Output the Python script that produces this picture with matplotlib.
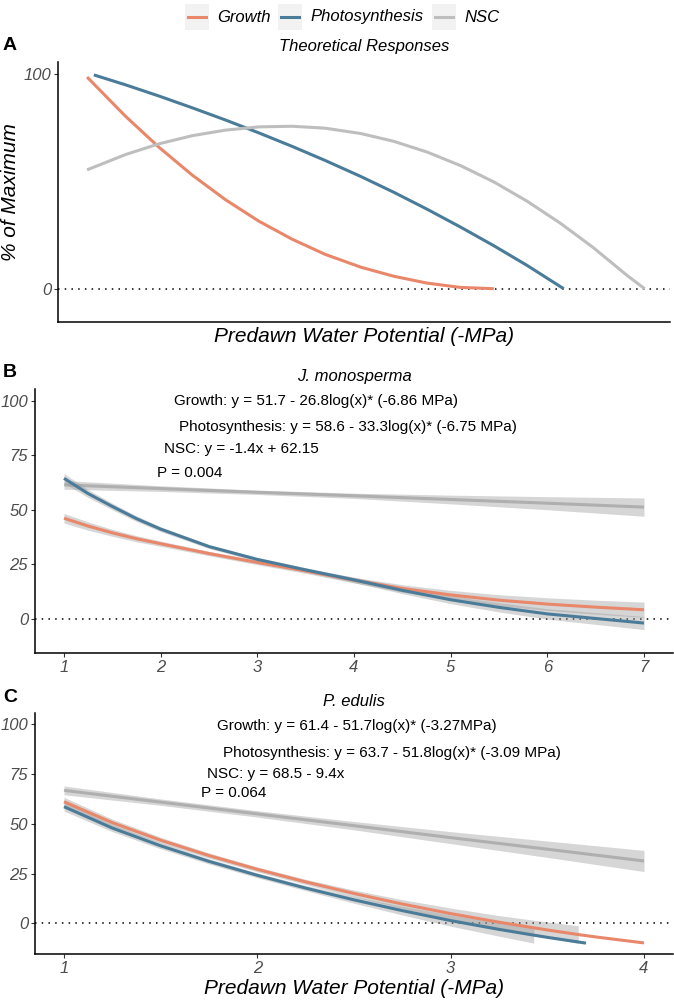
import numpy as np
import matplotlib.pyplot as plt
from matplotlib.patches import Rectangle
from matplotlib.lines import Line2D

plt.rcParams['font.family'] = ['Liberation Sans', 'DejaVu Sans']

# series names / colours shared by all panels
series_names = ['Growth', 'Photosynthesis', 'NSC']
series_colors = ['#E8876A', '#4A7C99', '#BEBEBE']
band_color = '#999999'

# ---- panel A: theoretical responses (x axis has no scale shown)
a_x_growth = [1.0, 1.62, 2.16, 2.70, 3.24, 3.78, 4.32, 4.85, 5.43, 5.96, 6.50, 7.04, 7.58]
a_growth = [98.5, 80.3, 65.9, 52.9, 41.4, 31.4, 23.0, 16.0, 10.0, 5.8, 2.6, 0.6, 0.0]
a_x_photo = [1.11, 1.62, 2.16, 2.70, 3.24, 3.78, 4.32, 4.85, 5.43, 5.96, 6.50, 7.04, 7.58, 8.12, 8.71]
a_photo = [99.5, 94.9, 89.7, 84.2, 78.5, 72.5, 66.2, 59.7, 52.2, 44.9, 37.0, 28.7, 20.0, 10.8, 0.0]
a_x_nsc = [1.0, 1.62, 2.16, 2.70, 3.24, 3.78, 4.32, 4.85, 5.43, 5.96, 6.50, 7.04, 7.58, 8.12, 8.66, 9.19, 9.73, 10.02]
a_nsc = [55.3, 62.4, 67.4, 71.2, 73.8, 75.3, 75.6, 74.7, 72.2, 68.6, 63.6, 57.3, 49.7, 40.7, 30.4, 19.1, 6.3, 0.0]

# ---- panel B: J. monosperma fits (value and half-width of the grey band)
b_x = [1, 1.25, 1.5, 1.75, 2, 2.5, 3, 3.5, 4, 4.5, 5, 5.5, 6, 6.5, 7]
b_growth = [46.2, 42.6, 39.5, 36.8, 34.5, 30.0, 25.9, 22.0, 17.8, 14.0, 11.0, 8.6, 6.8, 5.4, 4.2]
b_growth_se = [2.2, 1.9, 1.6, 1.4, 1.2, 1.0, 1.0, 1.1, 1.3, 1.7, 2.1, 2.5, 2.9, 3.2, 3.5]
b_photo = [64.5, 57.5, 51.6, 46.0, 41.2, 33.2, 27.3, 22.5, 17.9, 13.1, 8.8, 5.3, 2.3, 0.2, -1.9]
b_photo_se = [2.2, 1.8, 1.5, 1.3, 1.1, 0.9, 0.9, 1.0, 1.2, 1.5, 1.8, 2.1, 2.4, 2.7, 3.0]
b_x_nsc = [1, 2, 3, 4, 5, 6, 7]
b_nsc = [61.5, 59.8, 58.1, 56.5, 54.8, 53.1, 51.3]
b_nsc_se = [2.0, 1.3, 1.0, 1.2, 2.0, 3.0, 4.2]
b_labels = ['Growth: y = 51.7 - 26.8log(x)* (-6.86 MPa)',
            'Photosynthesis: y = 58.6 - 33.3log(x)* (-6.75 MPa)',
            'NSC: y = -1.4x + 62.15',
            'P = 0.004']

# ---- panel C: P. edulis fits (band dropped where it leaves the y range)
c_x_growth = [1, 1.25, 1.5, 1.75, 2, 2.25, 2.5, 2.75, 3, 3.25, 3.5, 3.66, 3.75, 4]
c_growth = [61.0, 50.5, 41.7, 34.0, 27.1, 20.8, 15.0, 9.7, 4.9, 0.6, -3.3, -5.6, -6.8, -9.8]
c_growth_se = [2.2, 1.8, 1.5, 1.3, 1.2, 1.3, 1.7, 2.2, 2.8, 3.3, 4.0, 4.4, np.nan, np.nan]
c_x_photo = [1, 1.25, 1.5, 1.75, 2, 2.25, 2.5, 2.75, 3, 3.25, 3.43, 3.5, 3.7]
c_photo = [58.5, 47.8, 38.9, 31.1, 24.1, 17.7, 11.8, 6.4, 1.4, -3.0, -5.9, -7.0, -9.9]
c_photo_se = [2.2, 1.8, 1.5, 1.3, 1.2, 1.3, 1.7, 2.2, 2.8, 3.4, 4.0, np.nan, np.nan]
c_x_nsc = [1, 1.5, 2, 2.5, 3, 3.5, 4]
c_nsc = [66.7, 60.8, 54.9, 49.0, 43.0, 37.2, 31.3]
c_nsc_se = [2.2, 1.6, 1.6, 2.1, 3.0, 4.1, 5.3]
c_labels = ['Growth: y = 61.4 - 51.7log(x)* (-3.27MPa)',
            'Photosynthesis: y = 63.7 - 51.8log(x)* (-3.09 MPa)',
            'NSC: y = 68.5 - 9.4x',
            'P = 0.064']

W, H = 674, 1001
fig = plt.figure(figsize=(W / 100, H / 100), dpi=100)
LINE = dict(lw=2.2, solid_joinstyle='round', solid_capstyle='butt')


def px_axes(left, right, top, bottom):
    return fig.add_axes([left / W, 1 - bottom / H, (right - left) / W, (bottom - top) / H])


def style(ax, xticks, yticks):
    for s in ['top', 'right']:
        ax.spines[s].set_visible(False)
    for s in ['left', 'bottom']:
        ax.spines[s].set_linewidth(1.1)
    ax.set_xticks(xticks)
    ax.set_yticks(yticks)
    ax.tick_params(direction='out', length=3, width=0.8, color='#333333',
                   labelsize=12, labelcolor='#4D4D4D', pad=2)
    for lab in ax.get_xticklabels() + ax.get_yticklabels():
        lab.set_fontstyle('italic')
    ax.set_ylim(-15.5, 105.5)
    ax.axhline(0, color='black', lw=1.1, linestyle=(0, (1, 3.4)), zorder=1)


def band(ax, x, y, se):
    y = np.array(y, dtype=float)
    se = np.array(se, dtype=float)
    ax.fill_between(x, y - se, y + se, color=band_color, alpha=0.4, lw=0, zorder=3)


def smooth_panel(ax, xg, yg, seg, xp, yp, sep, xn, yn, sen):
    ax.plot(xn, yn, color=series_colors[2], zorder=2, **LINE)
    band(ax, xn, yn, sen)
    band(ax, xg, yg, seg)
    band(ax, xp, yp, sep)
    ax.plot(xg, yg, color=series_colors[0], zorder=4, **LINE)
    ax.plot(xp, yp, color=series_colors[1], zorder=4, **LINE)


# panel A
ax_a = px_axes(58, 670, 62, 322)
style(ax_a, [], [0, 100])
ax_a.set_xlim(0.53, 10.43)
ax_a.plot(a_x_growth, a_growth, color=series_colors[0], zorder=4, **LINE)
ax_a.plot(a_x_photo, a_photo, color=series_colors[1], zorder=4, **LINE)
ax_a.plot(a_x_nsc, a_nsc, color=series_colors[2], zorder=4, **LINE)

# panel B
ax_b = px_axes(35, 673, 389, 652.7)
style(ax_b, range(1, 8), [0, 25, 50, 75, 100])
ax_b.set_xlim(0.7, 7.3)
smooth_panel(ax_b, b_x, b_growth, b_growth_se, b_x, b_photo, b_photo_se, b_x_nsc, b_nsc, b_nsc_se)
for (tx, ty), t in zip([(3.61, 100.0), (3.94, 88.1), (2.84, 77.9), (2.30, 67.1)], b_labels):
    ax_b.text(tx, ty, t, fontsize=11, ha='center', va='center', zorder=5)

# panel C
ax_c = px_axes(35, 673, 713, 954.3)
style(ax_c, [1, 2, 3, 4], [0, 25, 50, 75, 100])
ax_c.set_xlim(0.85, 4.15)
smooth_panel(ax_c, c_x_growth, c_growth, c_growth_se, c_x_photo, c_photo, c_photo_se, c_x_nsc, c_nsc, c_nsc_se)
for (tx, ty), t in zip([(2.515, 99.2), (2.697, 85.2), (2.093, 75.0), (1.879, 65.4)], c_labels):
    ax_c.text(tx, ty, t, fontsize=11, ha='center', va='center', zorder=5)

# titles, panel letters, axis labels
fig.text(364 / W, 1 - 47 / H, 'Theoretical Responses', fontsize=12, style='italic', ha='center', va='center')
fig.text(354 / W, 1 - 377 / H, 'J. monosperma', fontsize=12, style='italic', ha='center', va='center')
fig.text(354 / W, 1 - 702 / H, 'P. edulis', fontsize=12, style='italic', ha='center', va='center')
for letter, y in [('A', 45), ('B', 373), ('C', 697)]:
    fig.text(3 / W, 1 - y / H, letter, fontsize=14, fontweight='bold', ha='left', va='center')
fig.text(364 / W, 1 - 336 / H, 'Predawn Water Potential (-MPa)', fontsize=15, style='italic', ha='center', va='center')
fig.text(354 / W, 1 - 988 / H, 'Predawn Water Potential (-MPa)', fontsize=15, style='italic', ha='center', va='center')
fig.text(11 / W, 1 - 192 / H, '% of Maximum', fontsize=15, style='italic', rotation=90, ha='center', va='center')

# legend with grey key boxes across the top
key_centers = [197, 290, 444]
for cx, name, col in zip(key_centers, series_names, series_colors):
    fig.patches.append(Rectangle(((cx - 12) / W, 1 - 30 / H), 24 / W, 26 / H,
                                 transform=fig.transFigure, facecolor='#F2F2F2', edgecolor='none'))
    fig.lines.append(Line2D([(cx - 9) / W, (cx + 9) / W], [1 - 17 / H, 1 - 17 / H],
                            transform=fig.transFigure, color=col, lw=2.2))
    fig.text((cx + 20) / W, 1 - 17 / H, name, fontsize=12, style='italic', ha='left', va='center')

fig.savefig('out.png', dpi=100)
